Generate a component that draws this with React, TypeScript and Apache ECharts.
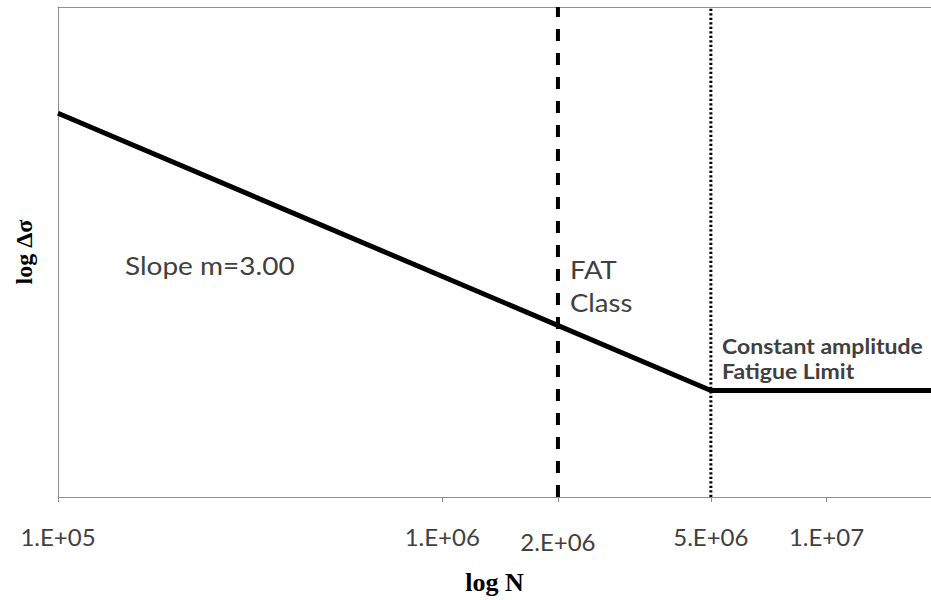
import React, { useEffect, useRef } from "react";
import * as echarts from "echarts";

// Tick positions and labels on the cycle axis (log N)
const xTickValues = [1e5, 1e6, 2e6, 5e6, 1e7];
const xTickLabels = ["1.E+05", "1.E+06", "2.E+06", "5.E+06", "1.E+07"];
const xRange = [1e5, 1.87e7];
// Relative stress range on the log Δσ axis (one decade)
const yRange = [1, 10];
// S-N curve (slope m = 3 down to the constant amplitude fatigue limit)
const snCurveN = [1e5, 5e6, 1.87e7];
const snCurveS = [6.07, 1.65, 1.65];
// Vertical reference lines
const fatClassN = 2e6;
const caflN = 5e6;

const TEXT = "#404040";
const AXIS = "#8f8f8f";

export default function App() {
  const ref = useRef<HTMLDivElement>(null);
  useEffect(() => {
    if (!ref.current) return;
    const chart = echarts.init(ref.current, null, { renderer: "svg" });
    const labelFor = (v: number) => {
      let best = 0;
      let bd = Infinity;
      xTickValues.forEach((t, i) => {
        const d = Math.abs(Math.log10(t) - Math.log10(v));
        if (d < bd) {
          bd = d;
          best = i;
        }
      });
      const s = xTickLabels[best];
      return s === "2.E+06" ? "{low|" + s + "}" : s;
    };
    chart.setOption({
      animation: false,
      grid: { left: 58, top: 7, right: 0, bottom: 100 },
      xAxis: [
        {
          type: "log",
          logBase: 10,
          min: xRange[0],
          max: xRange[1],
          name: "log N",
          nameLocation: "middle",
          nameGap: 72,
          nameTextStyle: {
            fontFamily: "Liberation Serif",
            fontWeight: "bold",
            fontSize: 26,
            color: "#000",
          },
          axisLine: { show: true, lineStyle: { color: AXIS, width: 1 } },
          axisTick: {
            show: true,
            length: 5,
            customValues: xTickValues,
            lineStyle: { color: AXIS },
          },
          axisLabel: {
            customValues: xTickValues,
            margin: 27,
            fontFamily: "Lato",
            fontSize: 24,
            color: TEXT,
            formatter: (v: number) => labelFor(v),
            rich: {
              low: {
                fontFamily: "Lato",
                fontSize: 24,
                color: TEXT,
                padding: [5, 0, 0, 0],
              },
            },
          },
          splitLine: { show: false },
        },
        {
          type: "log",
          logBase: 10,
          min: xRange[0],
          max: xRange[1],
          position: "top",
          axisLine: { show: true, lineStyle: { color: AXIS, width: 1 } },
          axisTick: { show: false },
          axisLabel: { show: false },
          splitLine: { show: false },
        },
      ],
      yAxis: {
        type: "log",
        logBase: 10,
        min: yRange[0],
        max: yRange[1],
        name: "log Δσ",
        nameLocation: "middle",
        nameGap: 22,
        nameRotate: 90,
        nameTextStyle: {
          fontFamily: "Liberation Serif",
          fontWeight: "bold",
          fontSize: 24,
          color: "#000",
        },
        axisLine: { show: true, lineStyle: { color: AXIS, width: 1 } },
        axisTick: { show: false },
        axisLabel: { show: false },
        splitLine: { show: false },
      },
      series: [
        {
          type: "line",
          name: "FAT",
          data: [
            [fatClassN, yRange[0]],
            [fatClassN, yRange[1]],
          ],
          symbol: "none",
          lineStyle: { color: "#000", width: 4, type: [12, 12] },
          silent: true,
        },
        {
          type: "line",
          name: "CAFL",
          data: [
            [caflN, yRange[0]],
            [caflN, yRange[1]],
          ],
          symbol: "none",
          lineStyle: { color: "#000", width: 3, type: [2.2, 2.3] },
          silent: true,
        },
        {
          type: "line",
          name: "S-N",
          data: snCurveN.map((n, i) => [n, snCurveS[i]]),
          symbol: "none",
          lineStyle: { color: "#000", width: 5 },
          silent: true,
        },
      ],
      graphic: [
        {
          type: "text",
          x: 125,
          y: 266,
          scaleX: 1.12,
          style: {
            text: "Slope m=3.00",
            fontFamily: "Lato",
            fontSize: 25,
            fill: TEXT,
            verticalAlign: "middle",
          },
        },
        {
          type: "text",
          x: 570,
          y: 286,
          scaleX: 1.1,
          style: {
            text: "FAT\nClass",
            fontFamily: "Lato",
            fontSize: 25,
            lineHeight: 33,
            fill: TEXT,
            verticalAlign: "middle",
          },
        },
        {
          type: "text",
          x: 722,
          y: 359,
          scaleX: 1.15,
          style: {
            text: "Constant amplitude\nFatigue Limit",
            fontFamily: "Lato",
            fontWeight: "bold",
            fontSize: 20,
            lineHeight: 25,
            fill: TEXT,
            verticalAlign: "middle",
          },
        },
      ],
    });
    return () => chart.dispose();
  }, []);
  return (
    <div
      ref={ref}
      style={{ position: "fixed", left: 0, top: 0, width: 931, height: 600, background: "#fff" }}
    />
  );
}
